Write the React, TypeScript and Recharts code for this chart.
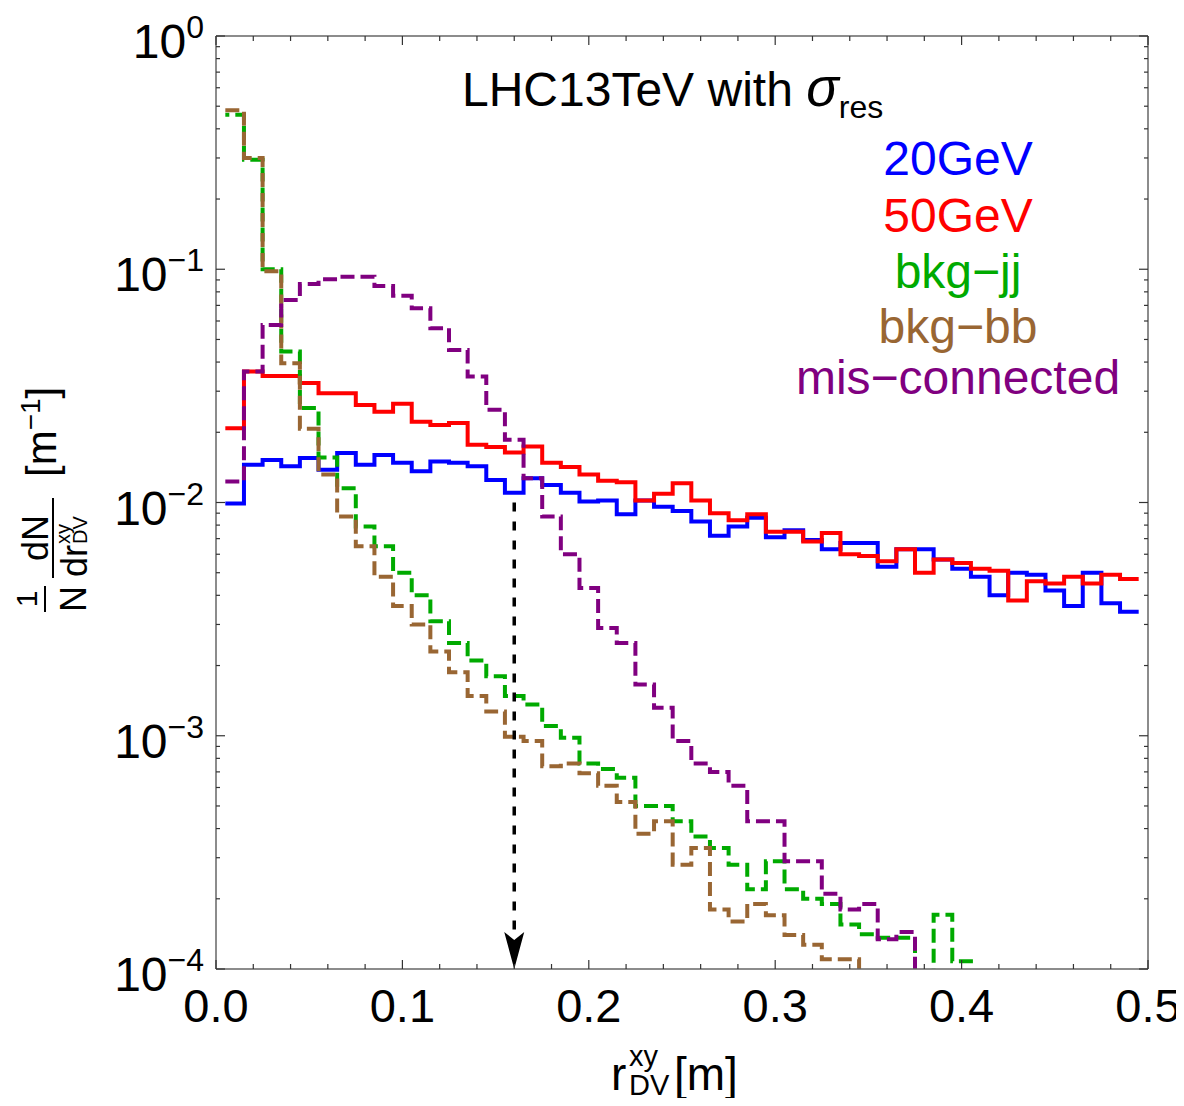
import React from "react";
import { ComposedChart, Line, XAxis, YAxis, ReferenceLine } from "recharts";

const FONT = "'Liberation Sans', Arial, Helvetica, sans-serif";
const W = 1176;
const H = 1090;
const FRAME = "#666";

// histogram bins (centres, width 0.01 m)
const BIN_WIDTH = 0.01;
const binCenters = [
  0.01, 0.02, 0.03, 0.04, 0.05, 0.06, 0.07, 0.08, 0.09, 0.1,
  0.11, 0.12, 0.13, 0.14, 0.15, 0.16, 0.17, 0.18, 0.19, 0.2,
  0.21, 0.22, 0.23, 0.24, 0.25, 0.26, 0.27, 0.28, 0.29, 0.3,
  0.31, 0.32, 0.33, 0.34, 0.35, 0.36, 0.37, 0.38, 0.39, 0.4,
  0.41, 0.42, 0.43, 0.44, 0.45, 0.46, 0.47, 0.48, 0.49,
];

const sig20 = [
  0.0099, 0.0145, 0.0152, 0.0143, 0.0155, 0.0138, 0.0163, 0.0145, 0.016, 0.0148,
  0.0136, 0.015, 0.0148, 0.0143, 0.0125, 0.011, 0.0127, 0.0119, 0.011, 0.0101,
  0.0102, 0.0089, 0.0102, 0.0096, 0.0092, 0.0083, 0.0072, 0.0079, 0.0086, 0.0071,
  0.0076, 0.0069, 0.0063, 0.0067, 0.0067, 0.0053, 0.0063, 0.0063, 0.0057, 0.0052,
  0.0048, 0.004, 0.005, 0.0049, 0.0042, 0.0036, 0.005, 0.0037, 0.0034,
];

const sig50 = [
  0.0208, 0.0364, 0.0349, 0.0349, 0.0325, 0.0294, 0.0294, 0.0262, 0.0245, 0.0265,
  0.0222, 0.0215, 0.0219, 0.0177, 0.0173, 0.0164, 0.0174, 0.0148, 0.0142, 0.0132,
  0.0124, 0.0122, 0.0102, 0.0109, 0.0121, 0.0102, 0.009, 0.0084, 0.0089, 0.0075,
  0.0075, 0.0068, 0.0074, 0.006, 0.0059, 0.0056, 0.0063, 0.005, 0.0057, 0.0055,
  0.0052, 0.0051, 0.0038, 0.0046, 0.0045, 0.0048, 0.0045, 0.0049, 0.0047,
];

const bkgJJ = [
  0.46, 0.295, 0.1, 0.0444, 0.0254, 0.0156, 0.0115, 0.0079, 0.0065, 0.005,
  0.004, 0.0031, 0.0025, 0.0021, 0.0018, 0.00148, 0.00136, 0.0011, 0.00098, 0.00076,
  0.00072, 0.00066, 0.0005, 0.0005, 0.00043, 0.00037, 0.00033, 0.00028, 0.00022, 0.00029,
  0.00022, 0.0002, 0.00019, 0.000155, 0.000141, 0.000136, 0.000136, 0.00008, 0.000171, 0.000108,
  0.00007, null, null, null, null, null, null, null, null,
];

const bkgBB = [
  0.48, 0.3, 0.098, 0.0395, 0.0207, 0.0132, 0.0087, 0.0065, 0.0048, 0.0036,
  0.003, 0.0023, 0.00187, 0.00148, 0.00127, 0.00099, 0.00095, 0.00074, 0.00076, 0.00069,
  0.00061, 0.00052, 0.00038, 0.00043, 0.00028, 0.00033, 0.00018, 0.00016, 0.00019, 0.00017,
  0.00014, 0.000127, 0.00011, 0.00011, 0.00007, null, null, null, null, null,
  null, null, null, null, null, null, null, null, null,
];

const misConn = [
  0.0123, 0.0364, 0.0577, 0.0739, 0.0865, 0.0906, 0.0929, 0.0929, 0.0848, 0.0769,
  0.0681, 0.0559, 0.0451, 0.0347, 0.025, 0.0186, 0.0127, 0.0087, 0.006, 0.0043,
  0.0029, 0.0025, 0.00166, 0.00132, 0.00095, 0.00076, 0.0007, 0.00061, 0.00043, 0.00043,
  0.00029, 0.00029, 0.00021, 0.00018, 0.00019, 0.000134, 0.000144, 0.00007, null, null,
  null, null, null, null, null, null, null, null, null,
];

const series = [
  { key: "sig20", name: "20GeV", color: "#0000FF", values: sig20, dash: undefined, offset: 0 },
  { key: "sig50", name: "50GeV", color: "#FF0000", values: sig50, dash: undefined, offset: 0 },
  { key: "bkgJJ", name: "bkg\u2212jj", color: "#00AA00", values: bkgJJ, dash: "14 6", offset: 10 },
  { key: "bkgBB", name: "bkg\u2212bb", color: "#996633", values: bkgBB, dash: "14 6", offset: 0 },
  { key: "misConn", name: "mis\u2212connected", color: "#800080", values: misConn, dash: "14 6", offset: 0 },
];

// cut marker
const arrowX = 0.16;
const arrowTop = 0.01;
const arrowBottom = 1e-4;

// ticks
const xMajorTicks = [0, 0.1, 0.2, 0.3, 0.4, 0.5];
const xMinorTicks = [0.02, 0.04, 0.06, 0.08, 0.12, 0.14, 0.16, 0.18, 0.22, 0.24, 0.26, 0.28,
  0.32, 0.34, 0.36, 0.38, 0.42, 0.44, 0.46, 0.48];
const yMajorTicks = [1e-4, 1e-3, 1e-2, 1e-1, 1];
const yMinorMultipliers = [2, 3, 4, 5, 6, 7, 8, 9];

const xTicks = [...xMajorTicks, ...xMinorTicks].sort((a, b) => a - b);
const yTicks = [
  ...yMajorTicks,
  ...yMajorTicks.slice(0, -1).flatMap((d) => yMinorMultipliers.map((m) => m * d)),
].sort((a, b) => a - b);

// step rows: one point per left bin edge, plus the closing right edge
const rows = [
  ...binCenters.map((c, i) => {
    const r: any = { x: c - BIN_WIDTH / 2 };
    series.forEach((s) => (r[s.key] = s.values[i]));
    return r;
  }),
  (() => {
    const last = binCenters.length - 1;
    const r: any = { x: binCenters[last] + BIN_WIDTH / 2 };
    series.forEach((s) => (r[s.key] = s.values[last]));
    return r;
  })(),
];

const isXMajor = (v: number) => Math.abs(v * 10 - Math.round(v * 10)) < 1e-9;
const isYMajor = (v: number) => Math.abs(Math.log10(v) - Math.round(Math.log10(v))) < 1e-6;

const LeftTick = (props: any) => {
  const { x, y, payload } = props;
  const v = payload.value;
  const major = isYMajor(v);
  const e = Math.round(Math.log10(v));
  return (
    <g>
      <line x1={x} x2={x + (major ? 9 : 4)} y1={y} y2={y} stroke="#333" strokeWidth={1.2} />
      {major && (
        <text x={x - 12} y={y + 22} textAnchor="end" fontSize={48} fill="#000" fontFamily={FONT}>
          10
          <tspan dy={-20} fontSize={32}>{e < 0 ? `\u2212${-e}` : `${e}`}</tspan>
        </text>
      )}
    </g>
  );
};

const RightTick = (props: any) => {
  const { x, y, payload } = props;
  const major = isYMajor(payload.value);
  return <line x1={x} x2={x - (major ? 9 : 4)} y1={y} y2={y} stroke="#333" strokeWidth={1.2} />;
};

const BottomTick = (props: any) => {
  const { x, y, payload } = props;
  const major = isXMajor(payload.value);
  return (
    <g>
      <line x1={x} x2={x} y1={y} y2={y - (major ? 9 : 5)} stroke="#333" strokeWidth={1.2} />
      {major && (
        <text x={x} y={y + 53} textAnchor="middle" fontSize={47} fill="#000" fontFamily={FONT}>
          {payload.value.toFixed(1)}
        </text>
      )}
    </g>
  );
};

const TopTick = (props: any) => {
  const { x, y, payload } = props;
  const major = isXMajor(payload.value);
  return <line x1={x} x2={x} y1={y} y2={y + (major ? 9 : 5)} stroke="#333" strokeWidth={1.2} />;
};

const ArrowShape = (props: any) => {
  const { x1, y1, x2, y2 } = props;
  return (
    <g>
      <line x1={x1} y1={y1} x2={x2} y2={y2 - 30} stroke="#000" strokeWidth={3.5} strokeDasharray="9 10" />
      <polygon
        points={`${x2},${y2} ${x2 - 10},${y2 - 37} ${x2},${y2 - 29} ${x2 + 10},${y2 - 37}`}
        fill="#000"
      />
    </g>
  );
};

const legendBaselines = [167, 224, 280, 335, 386];

export default function App() {
  return (
    <div style={{ position: "relative", width: W, height: H, fontFamily: FONT }}>
      <ComposedChart
        width={W}
        height={H}
        data={rows}
        margin={{ top: 8, right: 16, bottom: 29, left: 0 }}
      >
        <XAxis
          dataKey="x"
          type="number"
          domain={[0, 0.5]}
          allowDataOverflow
          ticks={xTicks}
          interval={0}
          tickSize={0}
          tickMargin={0}
          tickLine={false}
          tick={BottomTick}
          height={100}
          axisLine={{ stroke: FRAME, strokeWidth: 1.5 }}
        />
        <XAxis
          xAxisId="t"
          orientation="top"
          dataKey="x"
          type="number"
          domain={[0, 0.5]}
          allowDataOverflow
          ticks={xTicks}
          interval={0}
          tickSize={0}
          tickMargin={0}
          tickLine={false}
          tick={TopTick}
          height={20}
          axisLine={{ stroke: FRAME, strokeWidth: 1.5 }}
        />
        <YAxis
          type="number"
          scale="log"
          domain={[1e-4, 1]}
          allowDataOverflow
          ticks={yTicks}
          interval={0}
          tickSize={0}
          tickMargin={0}
          tickLine={false}
          tick={LeftTick}
          width={208}
          axisLine={{ stroke: FRAME, strokeWidth: 1.5 }}
        />
        <YAxis
          yAxisId="r"
          orientation="right"
          type="number"
          scale="log"
          domain={[1e-4, 1]}
          allowDataOverflow
          ticks={yTicks}
          interval={0}
          tickSize={0}
          tickMargin={0}
          tickLine={false}
          tick={RightTick}
          width={20}
          axisLine={{ stroke: FRAME, strokeWidth: 1.5 }}
        />
        {series.map((s) => (
          <Line
            key={s.key}
            dataKey={s.key}
            type="stepAfter"
            stroke={s.color}
            strokeWidth={4}
            strokeDasharray={s.dash}
            strokeDashoffset={s.offset}
            dot={false}
            activeDot={false}
            connectNulls={false}
            isAnimationActive={false}
          />
        ))}
        <ReferenceLine
          segment={[
            { x: arrowX, y: arrowTop },
            { x: arrowX, y: arrowBottom },
          ]}
          ifOverflow="visible"
          shape={ArrowShape}
        />
      </ComposedChart>

      <svg
        width={W}
        height={H}
        style={{ position: "absolute", left: 0, top: 0, overflow: "visible", pointerEvents: "none" }}
        fontFamily={FONT}
      >
        {/* title */}
        <text x={454} y={98} fontSize={48} fill="#000">
          LHC13TeV with <tspan fontStyle="italic" fontSize={54}>σ</tspan>
          <tspan dy={12} fontSize={32}>res</tspan>
        </text>

        {/* legend */}
        {series.map((s, i) => (
          <text key={s.key} x={950} y={legendBaselines[i]} fontSize={48} fill={s.color} textAnchor="middle">
            {s.name}
          </text>
        ))}

        {/* y axis label */}
        <g transform="translate(45,490) rotate(-90)" fill="#000">
          <text x={-101} y={-16} fontSize={30} textAnchor="middle">1</text>
          <line x1={-114} x2={-88} y1={-8} y2={-8} stroke="#000" strokeWidth={2} />
          <text x={-101} y={33} fontSize={36} textAnchor="middle">N</text>

          <text x={-40} y={-5} fontSize={36} textAnchor="middle">dN</text>
          <line x1={-80} x2={0} y1={0} y2={0} stroke="#000" strokeWidth={2} />
          <text x={-79} y={34} fontSize={36}>dr</text>
          <text x={-46} y={17} fontSize={20}>xy</text>
          <text x={-46} y={34} fontSize={20}>DV</text>

          <text x={21} y={3} fontSize={42}>
            [m<tspan dy={-16} fontSize={28}>{"\u22121"}</tspan>
            <tspan dy={16}>]</tspan>
          </text>
        </g>

        {/* x axis label */}
        <text x={603} y={1082} fontSize={46} fill="#000">r</text>
        <text x={621} y={1058} fontSize={29} fill="#000">xy</text>
        <text x={621} y={1087} fontSize={29} fill="#000">DV</text>
        <text x={666} y={1082} fontSize={46} fill="#000">[m]</text>
      </svg>
    </div>
  );
}
